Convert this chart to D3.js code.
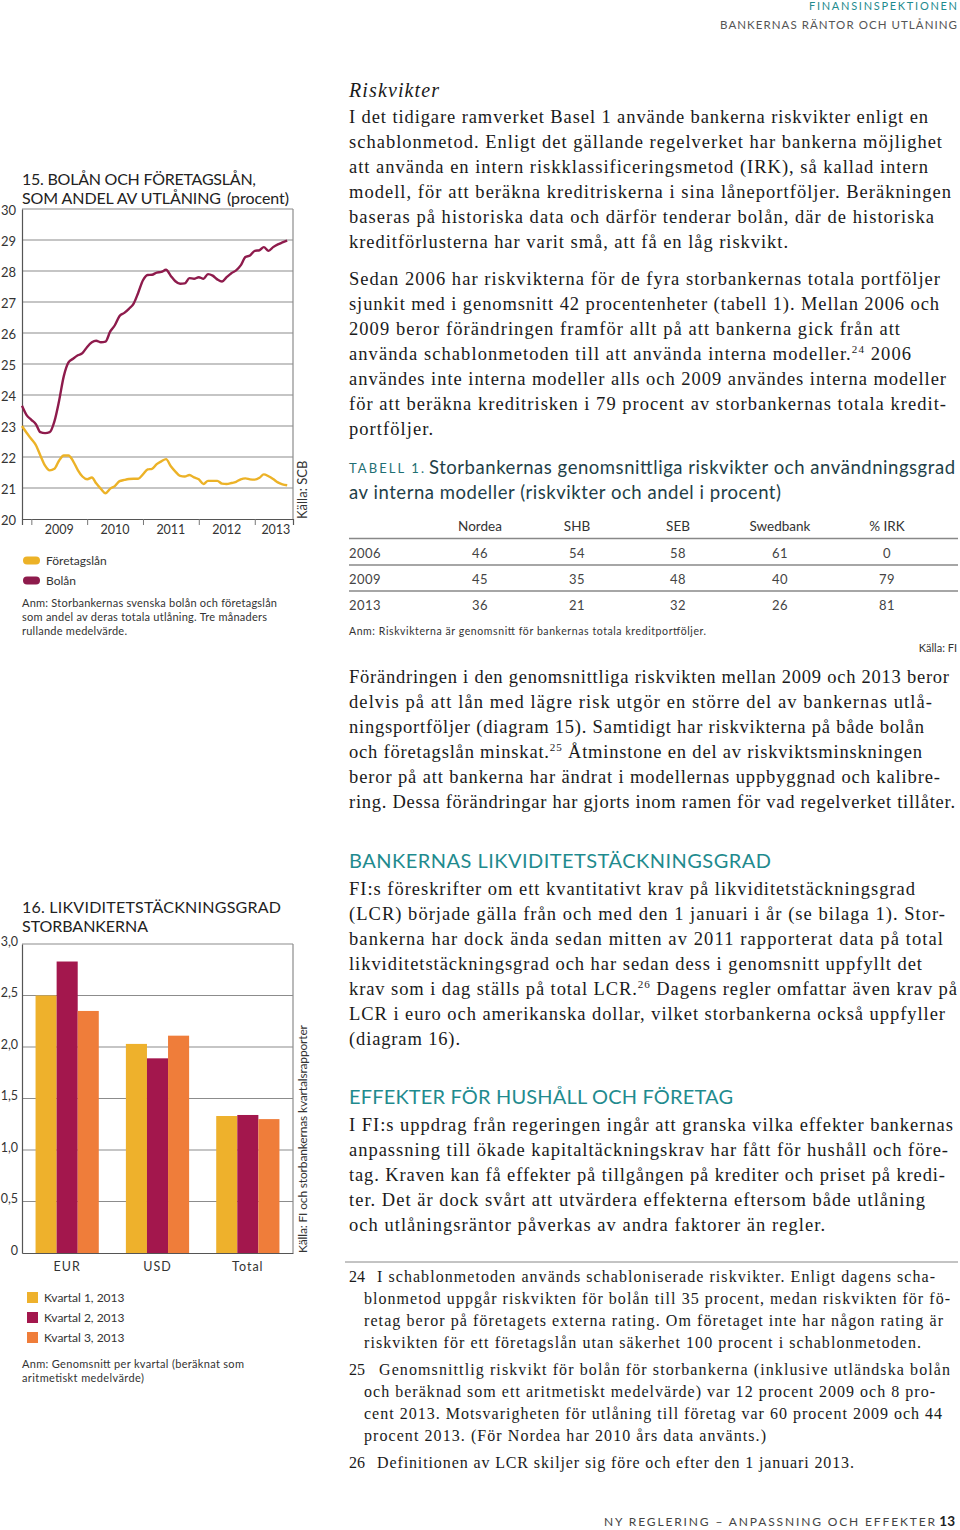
<!DOCTYPE html>
<html><head><meta charset="utf-8">
<script src="https://cdn.jsdelivr.net/npm/d3@7"></script>
<style>
html,body{margin:0;padding:0;background:#fff;}
svg{display:block;}
</style></head>
<body>
<script>
// ---------- DATA ----------
// Chart 15: monthly, Nov 2008 – Aug 2013 (three-month rolling average, percent)
const months15 = d3.timeMonth.range(new Date(2008,10,1), new Date(2013,8,1));
const bolan = [23.65,23.35,23.2,23.05,22.8,22.77,22.8,23.15,23.8,24.6,25.05,25.17,25.28,25.35,25.55,25.7,25.75,25.7,25.72,26.05,26.25,26.55,26.65,26.78,26.95,27.3,27.7,27.87,27.88,27.95,27.97,28.04,27.85,27.67,27.59,27.6,27.77,27.75,27.8,27.75,27.9,27.85,27.73,27.66,27.8,27.93,28.02,28.18,28.45,28.5,28.65,28.67,28.77,28.65,28.77,28.86,28.92,28.98];
const foretag = [23.0,22.78,22.58,22.37,22.05,21.72,21.57,21.62,21.88,22.05,22.05,21.87,21.58,21.37,21.28,21.34,21.15,20.97,20.83,20.98,21.06,21.22,21.26,21.29,21.3,21.3,21.44,21.6,21.62,21.77,21.86,21.93,21.71,21.53,21.39,21.37,21.42,21.34,21.28,21.13,21.23,21.23,21.23,21.14,21.13,21.16,21.2,21.28,21.31,21.28,21.27,21.33,21.44,21.38,21.29,21.18,21.12,21.09];
const years15 = [2009,2010,2011,2012,2013];
const yTicks15 = [20,21,22,23,24,25,26,27,28,29,30];
const legend15 = ["Företagslån","Bolån"];

// Chart 16
const categories16 = ["EUR","USD","Total"];
const series16 = ["Kvartal 1, 2013","Kvartal 2, 2013","Kvartal 3, 2013"];
const kvartal1 = [2.50,2.03,1.33];
const kvartal2 = [2.83,1.89,1.34];
const kvartal3 = [2.35,2.11,1.30];
const yTicks16 = [0,0.5,1.0,1.5,2.0,2.5,3.0];

// Table 1
const tableCols = ["Nordea","SHB","SEB","Swedbank","% IRK"];
const tableYears = ["2006","2009","2013"];
const nordea = [46,45,36];
const shb = [54,35,21];
const seb = [58,48,32];
const swedbank = [61,40,26];
const irk = [0,79,81];

// ---------- STYLE ----------
const SANS = "Lato, 'Open Sans', 'DejaVu Sans', sans-serif";
const SERIF = "'Liberation Serif', 'DejaVu Serif', serif";
const TEAL = "#1f8b8e";
const C_BOLAN = "#8e1b4c";
const C_FORE = "#ecb227";
const C_Q = ["#eeb12c","#a3174d","#ef7d3a"];
const GRID = "#8c8c8c";

const svg = d3.select("body").append("svg").attr("width",960).attr("height",1530);

function txt(g, x, y, s, o={}) {
  const size = o.size||12;
  const t = g.append("text").attr("x",x).attr("y",y)
    .attr("font-family", o.family||SANS).attr("font-size", size)
    .attr("fill", o.fill||"#222");
  if (o.anchor) t.attr("text-anchor", o.anchor);
  if (o.weight) t.attr("font-weight", o.weight);
  if (o.style) t.attr("font-style", o.style);
  if (o.ls) t.attr("letter-spacing", o.ls);
  if (o.len) t.attr("textLength", o.len).attr("lengthAdjust","spacing");
  if (o.transform) t.attr("transform", o.transform);
  const parts = s.split(/\^(\d+)\^/);
  let pendingDown = 0;
  parts.forEach((p,i)=>{
    if (!p) return;
    if (i%2===1) {
      t.append("tspan").attr("font-size",size*0.6).attr("dy",-7).text(p);
      pendingDown = 7;
    } else {
      const ts = t.append("tspan").text(p);
      if (pendingDown) { ts.attr("dy", pendingDown); pendingDown = 0; }
    }
  });
  return t;
}

// ---------- PAGE HEADER / FOOTER ----------
txt(svg, 809, 10, "FINANSINSPEKTIONEN", {size:11, fill:TEAL, len:148});
txt(svg, 720, 29, "BANKERNAS RÄNTOR OCH UTLÅNING", {size:11.5, fill:"#555", len:237});
txt(svg, 604, 1526, "NY REGLERING – ANPASSNING OCH EFFEKTER", {size:12, fill:"#444", len:331});
txt(svg, 955, 1526, "13", {size:13.5, fill:"#222", weight:"bold", anchor:"end"});

// ---------- CHART 15 ----------
{
  const g = svg.append("g");
  const L=22, R=293, T=209, B=519;
  const x = d3.scaleTime().domain([new Date(2008,10,1), new Date(2013,8,8)]).range([L,R]);
  const y = d3.scaleLinear().domain([20,30]).range([B,T]);
  txt(g, 22, 185, "15. BOLÅN OCH FÖRETAGSLÅN,", {size:16, fill:"#222", len:234});
  txt(g, 22, 204, "SOM ANDEL AV UTLÅNING", {size:16, fill:"#222", len:199});
  txt(g, 227, 204, "(procent)", {size:16, fill:"#222", len:62});
  // grid
  g.selectAll("line.grid").data(yTicks15.filter(v=>v>20)).enter().append("line")
    .attr("x1",L).attr("x2",R).attr("y1",d=>y(d)).attr("y2",d=>y(d))
    .attr("stroke",GRID).attr("stroke-width",1.2);
  g.append("line").attr("x1",R).attr("x2",R).attr("y1",T).attr("y2",B).attr("stroke",GRID).attr("stroke-width",1.2);
  // y axis
  const ya = g.append("g").attr("transform",`translate(${L},0)`)
    .call(d3.axisLeft(y).tickValues(yTicks15).tickSize(0).tickPadding(6));
  ya.select(".domain").attr("stroke","#555").attr("stroke-width",1.2);
  ya.selectAll("text").attr("font-family",SANS).attr("font-size",13).attr("fill","#333").attr("dy","0.4em");
  // x axis
  const jan = years15.map(yr=>new Date(yr,0,1));
  const xa = g.append("g").attr("transform",`translate(0,${B})`)
    .call(d3.axisBottom(x).tickValues(jan).tickSize(6).tickFormat(""));
  xa.select(".domain").attr("stroke","#555").attr("stroke-width",1.2);
  xa.selectAll("line").attr("stroke","#777");
  years15.forEach(yr=>{
    const a = x(new Date(yr,0,1)), b = Math.min(R, x(new Date(yr+1,0,1)));
    txt(g,(a+b)/2 + (yr===2013?2:0), 534, String(yr), {size:12.5, fill:"#333", anchor:"middle"});
  });
  const line = d3.line().x((d,i)=>x(months15[i])).y(d=>y(d)).curve(d3.curveMonotoneX);
  g.append("path").datum(foretag).attr("d",line).attr("fill","none").attr("stroke",C_FORE).attr("stroke-width",2.4).attr("stroke-linejoin","round");
  g.append("path").datum(bolan).attr("d",line).attr("fill","none").attr("stroke",C_BOLAN).attr("stroke-width",2.4).attr("stroke-linejoin","round");
  txt(g, 0, 0, "Källa: SCB", {size:13, fill:"#333", transform:`translate(307,${B}) rotate(-90)`});
  // legend
  [C_FORE, C_BOLAN].forEach((c,i)=>{
    g.append("rect").attr("x",23).attr("y",556.5+i*20).attr("width",17).attr("height",8).attr("rx",4).attr("fill",c);
    txt(g, 46, 565+i*20, legend15[i], {size:12, fill:"#333"});
  });
  const anm = ["Anm: Storbankernas svenska bolån och företagslån","som andel av deras totala utlåning. Tre månaders","rullande medelvärde."];
  const anmLen = [255, 245, 105];
  anm.forEach((s,i)=>txt(g, 22, 607+i*14, s, {size:11, fill:"#333", len:anmLen[i]}));
}

// ---------- CHART 16 ----------
{
  const g = svg.append("g");
  const L=22, R=293, T=944, B=1253;
  const x0 = d3.scaleBand().domain(categories16).range([L,R]).paddingInner(0.3).paddingOuter(0.15);
  const x1 = d3.scaleBand().domain(series16).range([0,x0.bandwidth()]);
  const y = d3.scaleLinear().domain([0,3]).range([B,T]);
  txt(g, 22, 913, "16. LIKVIDITETSTÄCKNINGSGRAD", {size:16, fill:"#222", len:259});
  txt(g, 22, 932, "STORBANKERNA", {size:16, fill:"#222", len:126});
  g.selectAll("line.grid").data(yTicks16.filter(v=>v>0)).enter().append("line")
    .attr("x1",L).attr("x2",R).attr("y1",d=>y(d)).attr("y2",d=>y(d))
    .attr("stroke",GRID).attr("stroke-width",1.2);
  g.append("line").attr("x1",R).attr("x2",R).attr("y1",T).attr("y2",B).attr("stroke",GRID).attr("stroke-width",1.2);
  const vals = [kvartal1,kvartal2,kvartal3];
  categories16.forEach((cat,ci)=>{
    series16.forEach((s,si)=>{
      g.append("rect").attr("x",x0(cat)+x1(s)).attr("width",x1.bandwidth())
        .attr("y",y(vals[si][ci])).attr("height",B-y(vals[si][ci])).attr("fill",C_Q[si]);
    });
  });
  const ya = g.append("g").attr("transform",`translate(${L},0)`)
    .call(d3.axisLeft(y).tickValues(yTicks16).tickSize(0).tickPadding(4)
      .tickFormat(d=>d===0?"0":d3.format(".1f")(d).replace(".",",")));
  ya.select(".domain").attr("stroke","#555").attr("stroke-width",1.2);
  ya.selectAll("text").attr("font-family",SANS).attr("font-size",12.5).attr("fill","#333").attr("dy","0.1em");
  const xa = g.append("g").attr("transform",`translate(0,${B})`)
    .call(d3.axisBottom(x0).tickSize(0).tickPadding(9));
  xa.select(".domain").attr("stroke","#555").attr("stroke-width",1.2);
  xa.selectAll("text").attr("font-family",SANS).attr("font-size",12.5).attr("fill","#333").attr("letter-spacing",1);
  txt(g, 0, 0, "Källa: FI och storbankernas kvartalsrapporter", {size:12, fill:"#333", len:228, transform:`translate(307,${B}) rotate(-90)`});
  series16.forEach((s,i)=>{
    g.append("rect").attr("x",27).attr("y",1292+i*20).attr("width",11).attr("height",11).attr("fill",C_Q[i]);
    txt(g, 44, 1302+i*20, s, {size:12, fill:"#333"});
  });
  txt(g, 22, 1368, "Anm: Genomsnitt per kvartal (beräknat som", {size:11, fill:"#333", len:222});
  txt(g, 22, 1382, "aritmetiskt medelvärde)", {size:11, fill:"#333", len:122});
}

// ---------- RIGHT COLUMN TEXT ----------
{
  const g = svg.append("g");
  const X = 349;
  txt(g, X, 97, "Riskvikter", {family:SERIF, size:20, style:"italic", fill:"#1a1a1a", len:90});
  const body = [
    [118,"I det tidigare ramverket Basel 1 använde bankerna riskvikter enligt en",928],
    [143,"schablonmetod. Enligt det gällande regelverket har bankerna möjlighet",942],
    [168,"att använda en intern riskklassificeringsmetod (IRK), så kallad intern",928],
    [193,"modell, för att beräkna kreditriskerna i sina låneportföljer. Beräkningen",951],
    [218,"baseras på historiska data och därför tenderar bolån, där de historiska",934],
    [243,"kreditförlusterna har varit små, att få en låg riskvikt.",788],
    [280,"Sedan 2006 har riskvikterna för de fyra storbankernas totala portföljer",940],
    [305,"sjunkit med i genomsnitt 42 procentenheter (tabell 1). Mellan 2006 och",939],
    [330,"2009 beror förändringen framför allt på att bankerna gick från att",900],
    [355,"använda schablonmetoden till att använda interna modeller.^24^ 2006",911],
    [380,"användes inte interna modeller alls och 2009 användes interna modeller",946],
    [405,"för att beräkna kreditrisken i 79 procent av storbankernas totala kredit-",946],
    [430,"portföljer.",433],
    [678,"Förändringen i den genomsnittliga riskvikten mellan 2009 och 2013 beror",949],
    [703,"delvis på att lån med lägre risk utgör en större del av bankernas utlå-",932],
    [728,"ningsportföljer (diagram 15). Samtidigt har riskvikterna på både bolån",924],
    [753,"och företagslån minskat.^25^ Åtminstone en del av riskviktsminskningen",922],
    [778,"beror på att bankerna har ändrat i modellernas uppbyggnad och kalibre-",940],
    [803,"ring. Dessa förändringar har gjorts inom ramen för vad regelverket tillåter.",955],
    [890,"FI:s föreskrifter om ett kvantitativt krav på likviditetstäckningsgrad",915],
    [915,"(LCR) började gälla från och med den 1 januari i år (se bilaga 1). Stor-",945],
    [940,"bankerna har dock ända sedan mitten av 2011 rapporterat data på total",943],
    [965,"likviditetstäckningsgrad och har sedan dess i genomsnitt uppfyllt det",922],
    [990,"krav som i dag ställs på total LCR.^26^ Dagens regler omfattar även krav på",957],
    [1015,"LCR i euro och amerikanska dollar, vilket storbankerna också uppfyller",945],
    [1040,"(diagram 16).",460],
    [1126,"I FI:s uppdrag från regeringen ingår att granska vilka effekter bankernas",953],
    [1151,"anpassning till ökade kapitaltäckningskrav har fått för hushåll och före-",948],
    [1176,"tag. Kraven kan få effekter på tillgången på krediter och priset på kredi-",945],
    [1201,"ter. Det är dock svårt att utvärdera effekterna eftersom både utlåning",925],
    [1226,"och utlåningsräntor påverkas av andra faktorer än regler.",825]
  ];
  body.forEach(([yy,s,end])=>txt(g, X, yy+5, s, {family:SERIF, size:18.5, fill:"#1a1a1a", len:end-X}));

  txt(g, X, 868, "BANKERNAS LIKVIDITETSTÄCKNINGSGRAD", {size:20, fill:TEAL, len:422});
  txt(g, X, 1104, "EFFEKTER FÖR HUSHÅLL OCH FÖRETAG", {size:20, fill:TEAL, len:384});

  // footnotes
  g.append("line").attr("x1",345).attr("x2",958).attr("y1",1262).attr("y2",1262).attr("stroke","#888").attr("stroke-width",1);
  const fn = [
    [1277,"24",  "I schablonmetoden används schabloniserade riskvikter. Enligt dagens scha-",935,377],
    [1299,null,"blonmetod uppgår riskvikten för bolån till 35 procent, medan riskvikten för fö-",950,364],
    [1321,null,"retag beror på företagets externa rating. Om företaget inte har någon rating är",943,364],
    [1343,null,"riskvikten för ett företagslån utan säkerhet 100 procent i schablonmetoden.",921,364],
    [1370,"25","Genomsnittlig riskvikt för bolån för storbankerna (inklusive utländska bolån",950,379],
    [1392,null,"och beräknad som ett aritmetiskt medelvärde) var 12 procent 2009 och 8 pro-",935,364],
    [1414,null,"cent 2013. Motsvarigheten för utlåning till företag var 60 procent 2009 och 44",942,364],
    [1436,null,"procent 2013. (För Nordea har 2010 års data använts.)",766,364],
    [1463,"26","Definitionen av LCR skiljer sig före och efter den 1 januari 2013.",854,377]
  ];
  fn.forEach(([yy,num,s,end,sx])=>{
    if (num) txt(g, X, yy+5, num, {family:SERIF, size:16, fill:"#1a1a1a"});
    txt(g, sx, yy+5, s, {family:SERIF, size:16, fill:"#1a1a1a", len:end-sx});
  });
}

// ---------- TABLE 1 ----------
{
  const g = svg.append("g");
  const X = 349, RR = 958;
  txt(g, X, 473, "TABELL 1.", {size:13, fill:"#1f6f73", ls:1, len:76});
  txt(g, 429, 474, "Storbankernas genomsnittliga riskvikter och användningsgrad", {size:18.5, fill:"#1f3f48", len:526});
  txt(g, X, 499, "av interna modeller (riskvikter och andel i procent)", {size:18.5, fill:"#1f3f48", len:432});
  const colX = [480, 577, 678, 780, 887];
  tableCols.forEach((c,i)=>txt(g, colX[i], 531, c, {size:13.5, fill:"#333", anchor:"middle"}));
  const cols = [nordea, shb, seb, swedbank, irk];
  [538.5, 565, 591].forEach(yy=>g.append("line").attr("x1",X).attr("x2",RR).attr("y1",yy).attr("y2",yy).attr("stroke","#888").attr("stroke-width",1.3));
  tableYears.forEach((yr,ri)=>{
    const yy = 558 + ri*26;
    txt(g, X, yy, yr, {size:13, fill:"#444", ls:0.5});
    cols.forEach((col,ci)=>txt(g, colX[ci], yy, String(col[ri]), {size:13, fill:"#444", anchor:"middle", ls:0.5}));
  });
  txt(g, X, 635, "Anm: Riskvikterna är genomsnitt för bankernas totala kreditportföljer.", {size:10.5, fill:"#333", len:357});
  txt(g, 957, 652, "Källa: FI", {size:11, fill:"#333", anchor:"end"});
}
</script>
</body></html>
